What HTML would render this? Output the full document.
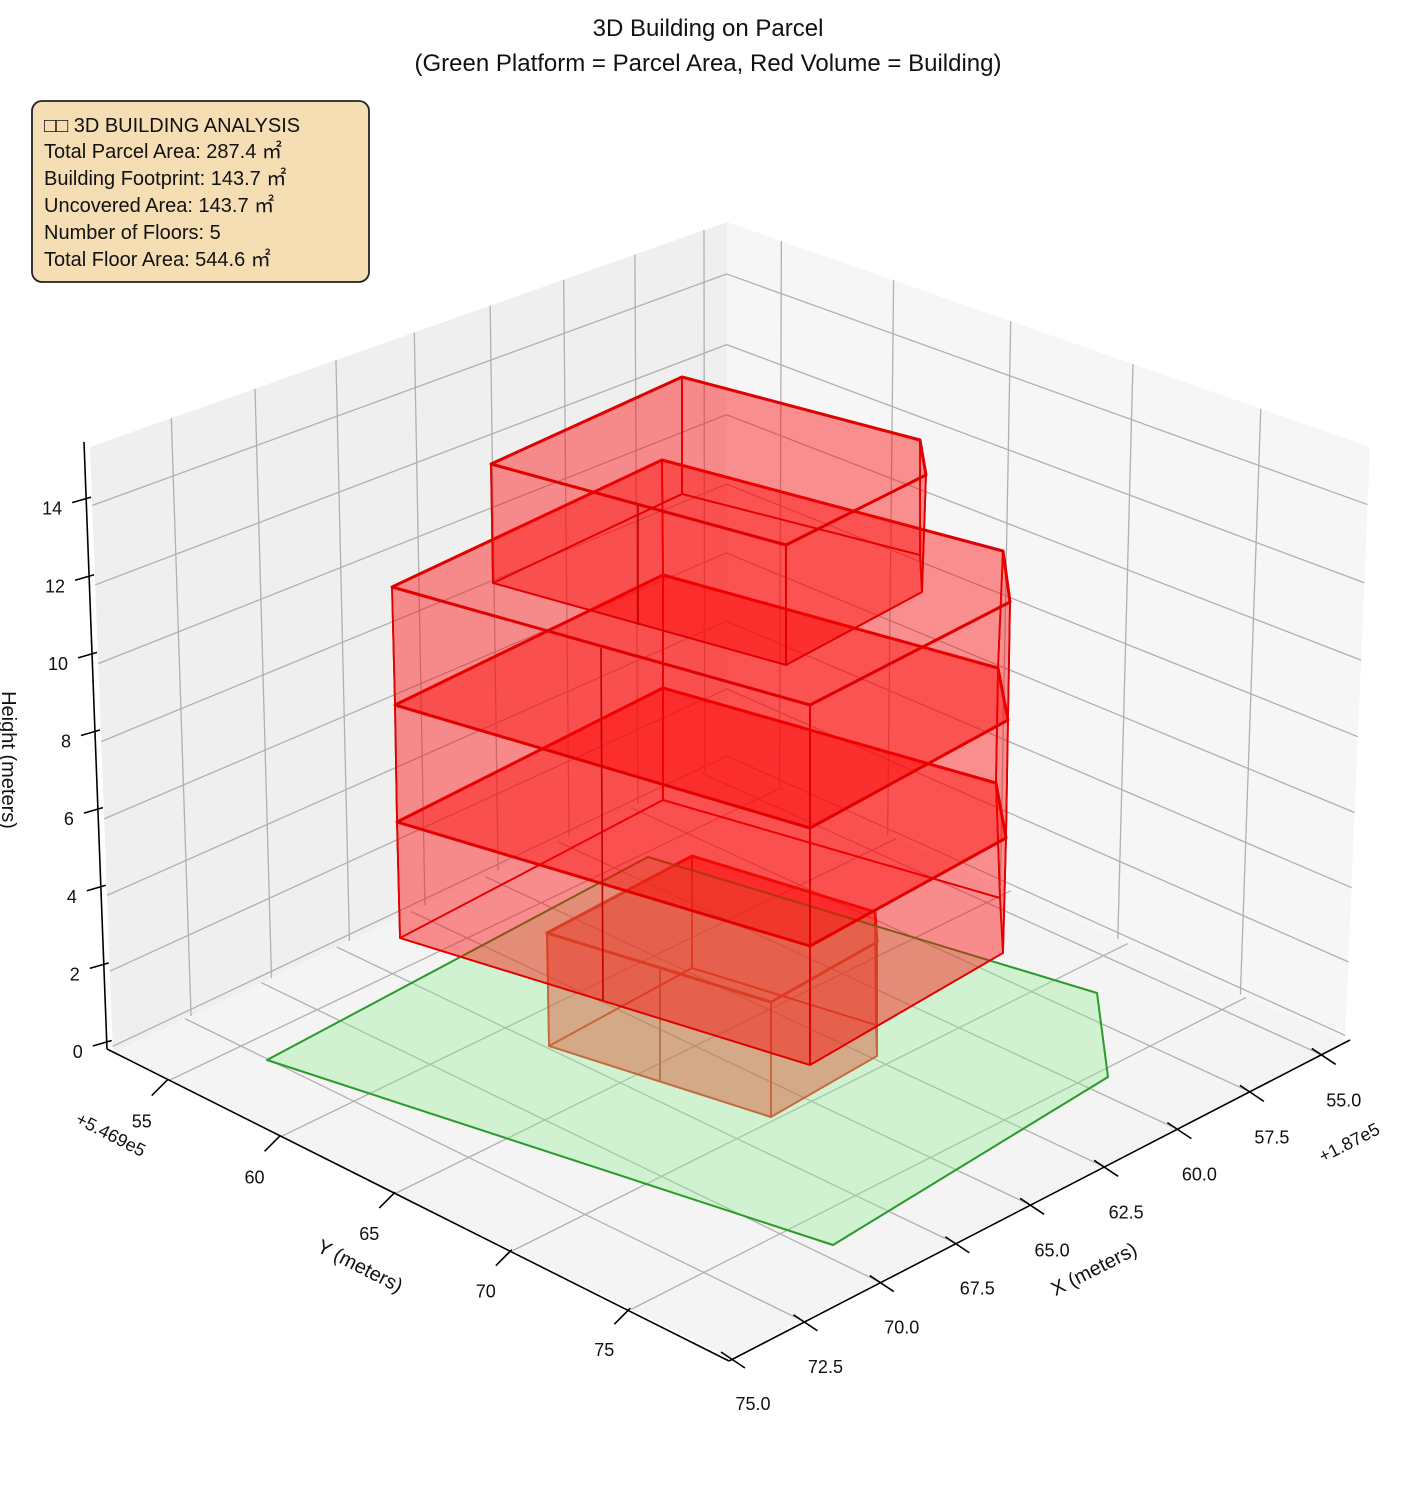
<!DOCTYPE html>
<html><head><meta charset="utf-8"><style>
html,body{margin:0;padding:0;background:#fff;}
svg{display:block;font-family:"Liberation Sans","DejaVu Sans",sans-serif;}
</style></head><body>
<svg id="s" width="1416" height="1486" viewBox="0 0 1416 1486" xmlns="http://www.w3.org/2000/svg">
<g id="panes"></g>
<g id="grid" stroke="#b0b0b0" stroke-width="1.3" fill="none"></g>
<g id="axes" stroke="#000" stroke-width="1.6" fill="none"></g>
<g id="labels" font-size="18" fill="#111"></g>
<g id="bldg"></g>
<text x="708" y="36" font-size="24" text-anchor="middle" fill="#111">3D Building on Parcel</text>
<text x="708" y="71" font-size="24" text-anchor="middle" fill="#111">(Green Platform = Parcel Area, Red Volume = Building)</text>
<rect x="32" y="101" width="337" height="181" rx="10" fill="#f5deb3" stroke="#222" stroke-width="1.8"/>
<g font-size="20" fill="#111">
<text x="44" y="132">□□ 3D BUILDING ANALYSIS</text>
<text x="44" y="158">Total Parcel Area: 287.4 ㎡</text>
<text x="44" y="185">Building Footprint: 143.7 ㎡</text>
<text x="44" y="212">Uncovered Area: 143.7 ㎡</text>
<text x="44" y="239">Number of Floors: 5</text>
<text x="44" y="266">Total Floor Area: 544.6 ㎡</text>
</g>
<text transform="translate(357,1272) rotate(27)" font-size="20" text-anchor="middle" fill="#111">Y (meters)</text>
<text transform="translate(1097,1275) rotate(-27)" font-size="20" text-anchor="middle" fill="#111">X (meters)</text>
<text transform="translate(2,760) rotate(90)" font-size="20" text-anchor="middle" fill="#111">Height (meters)</text>
<text transform="translate(108,1140) rotate(27)" font-size="18" text-anchor="middle" fill="#111">+5.469e5</text>
<text transform="translate(1352,1148) rotate(-27)" font-size="18" text-anchor="middle" fill="#111">+1.87e5</text>
</svg>
<script>
function solve(A,b){var n=b.length;for(var i=0;i<n;i++){var m=i;for(var k=i+1;k<n;k++)if(Math.abs(A[k][i])>Math.abs(A[m][i]))m=k;var t=A[i];A[i]=A[m];A[m]=t;t=b[i];b[i]=b[m];b[m]=t;for(var k=i+1;k<n;k++){var f=A[k][i]/A[i][i];for(var j=i;j<n;j++)A[k][j]-=f*A[i][j];b[k]-=f*b[i];}}var x=new Array(n);for(var i=n-1;i>=0;i--){var s=b[i];for(var j=i+1;j<n;j++)s-=A[i][j]*x[j];x[i]=s/A[i][i];}return x;}
function homog(src,dst){var A=[],b=[];for(var i=0;i<4;i++){var u=src[i][0],v=src[i][1],X=dst[i][0],Y=dst[i][1];A.push([u,v,1,0,0,0,-u*X,-v*X]);b.push(X);A.push([0,0,0,u,v,1,-u*Y,-v*Y]);b.push(Y);}var h=solve(A,b);return function(u,v){var w=h[6]*u+h[7]*v+1;return[(h[0]*u+h[1]*v+h[2])/w,(h[3]*u+h[4]*v+h[5])/w];};}
var sq=[[0,0],[1,0],[0,1],[1,1]];
var B0=[727,762],L0=[113,1053],R0=[1345,1042],F0=[730,1358],B1=[727,222],L1=[90,447],R1=[1370,447];
var floorH=homog(sq,[B0,L0,R0,F0]);
var leftH=homog(sq,[B0,L0,B1,L1]);
var rightH=homog(sq,[B0,R0,B1,R1]);
var NS="http://www.w3.org/2000/svg";
function el(p,tag,at){var e=document.createElementNS(NS,tag);for(var k in at)e.setAttribute(k,at[k]);p.appendChild(e);return e;}
function pts(a){return a.map(function(p){return p[0].toFixed(1)+","+p[1].toFixed(1)}).join(" ");}
var panes=document.getElementById("panes"),grid=document.getElementById("grid"),axes=document.getElementById("axes"),labels=document.getElementById("labels");
el(panes,"polygon",{points:pts([B0,L0,L1,B1]),fill:"#efefef"});
el(panes,"polygon",{points:pts([B0,R0,R1,B1]),fill:"#f6f6f6"});
el(panes,"polygon",{points:pts([B0,L0,F0,R0]),fill:"#f4f4f4"});
var xmin=54.15,xmax=74.85,ymin=52.5,ymax=79.1,zmin=-0.18,zmax=15.46;
function U(x){return (x-xmin)/(xmax-xmin);}function V(y){return (y-ymin)/(ymax-ymin);}function W(z){return (z-zmin)/(zmax-zmin);}
function line(g,a,b,at){var o={x1:a[0],y1:a[1],x2:b[0],y2:b[1]};for(var k in at)o[k]=at[k];el(g,"line",o);}
var xt=[55,57.5,60,62.5,65,67.5,70,72.5,75],yt=[55,60,65,70,75],zt=[0,2,4,6,8,10,12,14];
xt.forEach(function(x){var u=U(x);if(u>1)return;line(grid,floorH(u,0),floorH(u,1));line(grid,leftH(u,0),leftH(u,1));});
yt.forEach(function(y){var v=V(y);line(grid,floorH(0,v),floorH(1,v));line(grid,rightH(v,0),rightH(v,1));});
zt.forEach(function(z){var w=W(z);line(grid,leftH(0,w),leftH(1,w));line(grid,rightH(0,w),rightH(1,w));});
var za=[84,442],zb=[107,1049],yb=[729,1361],xb=[1350,1040];
line(axes,za,zb);line(axes,zb,yb);line(axes,yb,xb);
function lerp(a,b,t){return[a[0]+(b[0]-a[0])*t,a[1]+(b[1]-a[1])*t];}
zt.forEach(function(z){var p=lerp(zb,za,(z-zmin)/(zmax-zmin));line(axes,[p[0]-14,p[1]+4],[p[0]+5,p[1]-1.5]);
 var t=el(labels,"text",{x:p[0]-24,y:p[1]+16,"text-anchor":"end"});t.textContent=z;});
yt.forEach(function(y){var q=floorH(1,V(y));var p=[q[0]-5,q[1]+3];line(axes,[p[0]-12,p[1]+12],[p[0]+4,p[1]-4]);
 var t=el(labels,"text",{x:p[0]-22,y:p[1]+44,"text-anchor":"middle"});t.textContent=y;});
xt.forEach(function(x){var q=floorH(Math.min(U(x),1),1);var p=[q[0]+3,q[1]+2];line(axes,[p[0]-12,p[1]-8],[p[0]+12,p[1]+8]);
 var t=el(labels,"text",{x:p[0]+20,y:p[1]+50,"text-anchor":"middle"});t.textContent=x.toFixed(1);});
var bg=document.getElementById("bldg");
function face(p,fill,stroke,sw){el(bg,"polygon",{points:pts(p),fill:fill,stroke:stroke||"none","stroke-width":sw||0,"stroke-linejoin":"round"});}
function prism(top,bot,fill,stroke,swTop,swSide){
 face(bot,fill,stroke,swSide);
 for(var i=0;i<top.length;i++){var j=(i+1)%top.length;face([top[i],top[j],bot[j],bot[i]],fill,stroke,swSide);}
 face(top,fill,stroke,swTop);
}
var RF="rgba(255,0,0,0.24)",RS="#e00000";
prism([[547,933],[692,856],[875,912],[877,942],[771,1002]],[[549,1046],[692,968],[876,1025],[877,1056],[771,1117]],"rgba(255,0,0,0.27)","#e02010",3,1.8);
line(bg,[660,970],[660,1082],{stroke:"#c03020","stroke-width":1.8});
face([[267,1060],[648,857],[1097,993],[1108,1077],[833,1245]],"rgba(144,238,144,0.36)","#2a9a2a",2);
var Lv=[
 [[392,587],[662,460],[1003,551],[1010,602],[810,705]],
 [[395,705],[663,575],[998,668],[1008,720],[810,828]],
 [[397,822],[663,688],[996,783],[1006,838],[810,946]],
 [[400,938],[663,800],[1000,898],[1003,953],[810,1065]]];
for(var k=3;k>=1;k--){prism(Lv[k-1],Lv[k],RF,RS,3,1.8);}
line(bg,[601,648],[603,1000],{stroke:"#c00000","stroke-width":1.6});
prism([[491,464],[682,377],[920,440],[926,475],[786,545]],[[493,583],[682,494],[920,555],[922,592],[786,665]],RF,RS,3,1.8);
line(bg,[638,505],[638,625],{stroke:"#c00000","stroke-width":1.6});
</script>
</body></html>
